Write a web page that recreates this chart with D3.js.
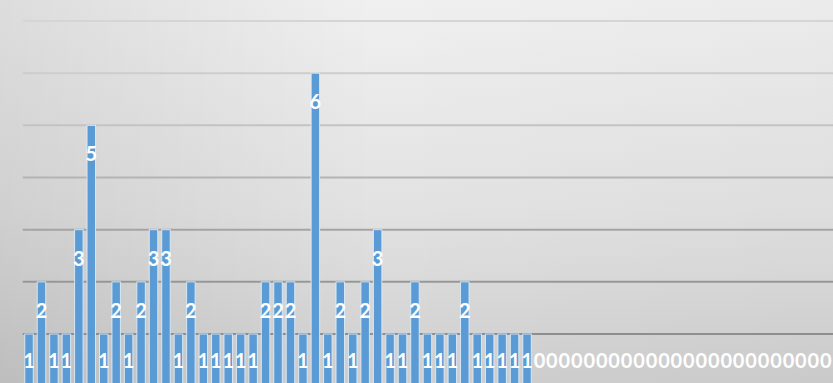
<!DOCTYPE html>
<html>
<head>
<meta charset="utf-8">
<script src="https://cdn.jsdelivr.net/npm/d3@7/dist/d3.min.js"></script>
<style>
html,body{margin:0;padding:0;overflow:hidden;background:#ddd;}
svg{display:block;}
</style>
</head>
<body>
<script>
// ---- data ----
const values = [1,2,1,1,3,5,1,2,1,2,3,3,1,2,1,1,1,1,1,2,2,2,1,6,1,2,1,2,3,1,1,2,1,1,1,2,1,1,1,1,1,
  0,0,0,0,0,0,0,0,0,0,0,0,0,0,0,0,0,0,0,0,0,0,0,0];
const categories = values.map((v, i) => String(i + 1));
const gridValues = [1,2,3,4,5,6,7];
const gridColors = ["#8e8e8e","#979797","#a4a4a4","#b4b4b4","#c3c3c3","#cdcdcd","#d5d5d5"];

const W = 833, H = 383;
const svg = d3.select("body").append("svg").attr("width", W).attr("height", H);
const defs = svg.append("defs");

const vg = defs.append("linearGradient").attr("id","bgv").attr("x1",0).attr("y1",0).attr("x2",0).attr("y2",1);
vg.append("stop").attr("offset","0%").attr("stop-color","#f0f0f0");
vg.append("stop").attr("offset","55%").attr("stop-color","#e2e2e2");
vg.append("stop").attr("offset","100%").attr("stop-color","#cecece");
const hg = defs.append("linearGradient").attr("id","bgh").attr("x1",0).attr("y1",0).attr("x2",1).attr("y2",0);
hg.append("stop").attr("offset","0%").attr("stop-color","#000").attr("stop-opacity",0.08);
hg.append("stop").attr("offset","45%").attr("stop-color","#000").attr("stop-opacity",0.0);
hg.append("stop").attr("offset","100%").attr("stop-color","#000").attr("stop-opacity",0.02);

svg.append("rect").attr("width",W).attr("height",H).attr("fill","url(#bgv)");
svg.append("rect").attr("width",W).attr("height",H).attr("fill","url(#bgh)");

const x = d3.scaleBand().domain(categories).range([22.8, 22.8 + categories.length * 12.45])
  .paddingInner(0.32).paddingOuter(0.16);
const y = d3.scaleLinear().domain([0, 7]).range([386.2, 21]);

// gridlines
svg.append("g").selectAll("line").data(gridValues).join("line")
  .attr("x1", x.range()[0]).attr("x2", W)
  .attr("y1", d => y(d)).attr("y2", d => y(d))
  .attr("stroke", (d, i) => gridColors[i]).attr("stroke-width", 2);

// bars
svg.append("g").selectAll("rect").data(values).join("rect")
  .attr("x", (d, i) => x(categories[i]))
  .attr("width", x.bandwidth())
  .attr("y", d => y(d))
  .attr("height", d => y(0) - y(d))
  .attr("fill", "#5b9bd5")
  .attr("stroke", "rgba(225,238,250,0.85)")
  .attr("stroke-width", 1);

// labels
svg.append("g").selectAll("text").data(values).join("text")
  .attr("x", (d, i) => x(categories[i]) + x.bandwidth() / 2)
  .attr("y", d => Math.min(y(d) + 28, y(0) - 26))
  .attr("text-anchor", "middle")
  .attr("dominant-baseline", "central")
  .attr("font-family", "Lato, 'Open Sans', sans-serif")
  .attr("font-size", 20)
  .attr("font-weight", 700)
  .attr("fill", "#ffffff")
  .text(d => d);
</script>
</body>
</html>
